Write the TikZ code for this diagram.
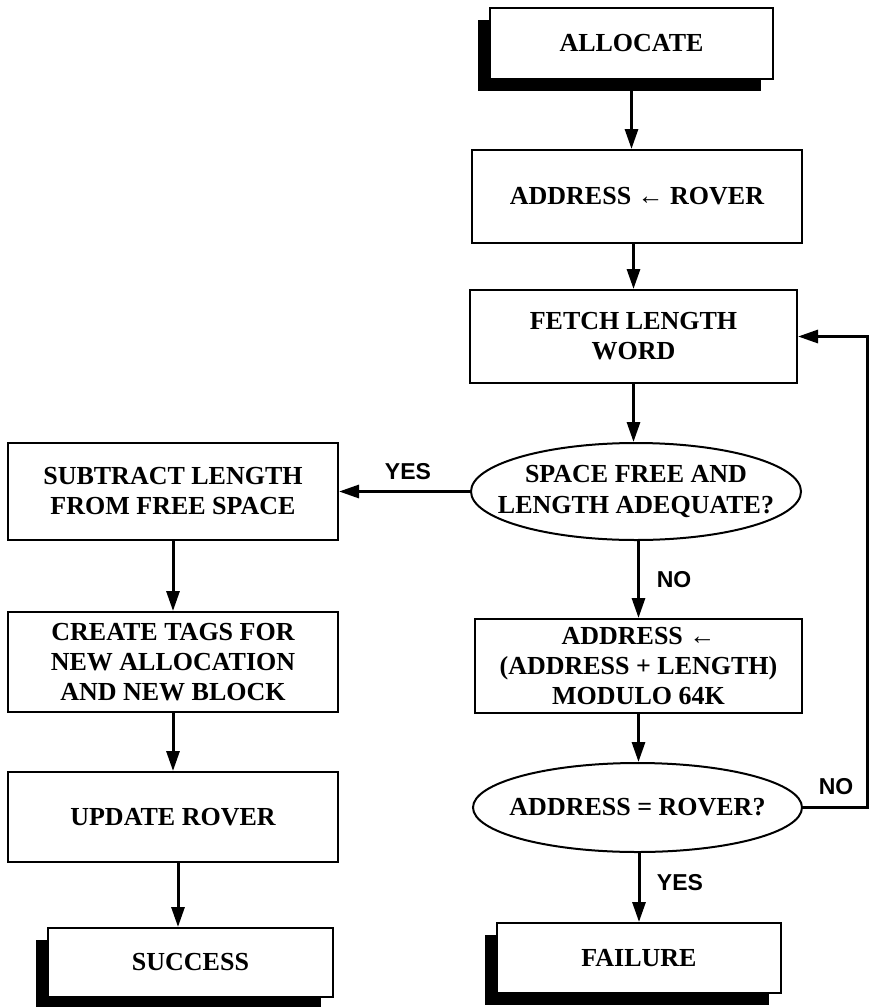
\documentclass[tikz,border=0pt]{standalone}
\usepackage{fontspec}
\setmainfont{Liberation Serif}
\setsansfont{Liberation Sans}
\usetikzlibrary{shapes.geometric,arrows.meta,shadows}
\begin{document}
\begin{tikzpicture}[x=1pt,y=-1pt,-{Triangle[length=20pt,width=13pt]},line width=3pt]
	\tikzstyle{p-node}=[rectangle,draw=black,line width=2pt,fill=white,inner sep=0pt,align=center,font=\fontsize{26}{30}\selectfont\bfseries]
	\tikzstyle{t-node}=[p-node,drop shadow={shadow xshift=-12pt,shadow yshift=-12pt,fill=black,opacity=1}]
	\tikzstyle{d-node}=[ellipse,draw=black,line width=2pt,fill=white,inner sep=0pt]
	\tikzstyle{d-text}=[align=center,inner sep=0pt,font=\fontsize{26}{31}\selectfont\bfseries]
	\tikzstyle{annot}=[inner sep=0pt,font=\fontsize{23}{26}\selectfont\sffamily\bfseries]
	\useasboundingbox (0,0) rectangle (870,1007);

	% right column
	\node[t-node,minimum width=283pt,minimum height=71pt] 	(alloc)	at (631.5,43.5)	{ALLOCATE};
	\node[p-node,minimum width=330pt,minimum height=93pt] 	(rover)	at (637,196.5)	{ADDRESS ← ROVER};
	\node[p-node,minimum width=327pt,minimum height=93pt] 	(fetch)	at (633.5,336.5)	{FETCH LENGTH\\WORD};
	\node[d-node,minimum width=330pt,minimum height=97pt,
		label={[d-text]center:SPACE FREE AND\\LENGTH ADEQUATE?}] 	(space)	at (636,491.5)	{};
	\node[p-node,minimum width=327pt,minimum height=94pt] 	(next)	at (638.5,666)	{ADDRESS ←\\(ADDRESS + LENGTH)\\MODULO 64K};
	\node[d-node,minimum width=329pt,minimum height=89pt,
		label={[d-text]center:ADDRESS = ROVER?}] 	(same)	at (637.5,807.5)	{};
	\node[t-node,minimum width=284pt,minimum height=70pt] 	(fail)	at (639,958)	{FAILURE};

	% left column
	\node[p-node,minimum width=330pt,minimum height=97pt] 	(subtract)	at (173,491.5)	{SUBTRACT LENGTH\\FROM FREE SPACE};
	\node[p-node,minimum width=330pt,minimum height=100pt] 	(tags)	at (173,662)	{CREATE TAGS FOR\\NEW ALLOCATION\\AND NEW BLOCK};
	\node[p-node,minimum width=330pt,minimum height=90pt] 	(update)	at (173,817)	{UPDATE ROVER};
	\node[t-node,minimum width=285pt,minimum height=69pt] 	(success)	at (190.5,962.5)	{SUCCESS};

	% labels
	\node[annot] 	(yes1)	at (408,472)	{YES};
	\node[annot] 	(no1)	at (674,580)	{NO};
	\node[annot] 	(no2)	at (836,787)	{NO};
	\node[annot] 	(yes2)	at (680,883)	{YES};

	\coordinate (turn) at (867,807.5);

	\draw (alloc.south) -- (alloc.south |- rover.north);
	\draw (fetch.north |- rover.south) -- (fetch.north);
	\draw (fetch.south) -- (fetch.south |- space.north);
	\draw (space.west) -- (subtract.east);
	\draw (space.south -| next.north) -- (next.north);
	\draw (next.south) -- (next.south |- same.north);
	\draw (same.south -| fail.north) -- (fail.north);
	\draw (same.east) -- (turn) |- (fetch.east);
	\draw (subtract.south) -- (tags.north);
	\draw (tags.south) -- (update.north);
	\draw ([xshift=5pt]update.south) -- ([xshift=5pt]update.south |- success.north);
\end{tikzpicture}
\end{document}
